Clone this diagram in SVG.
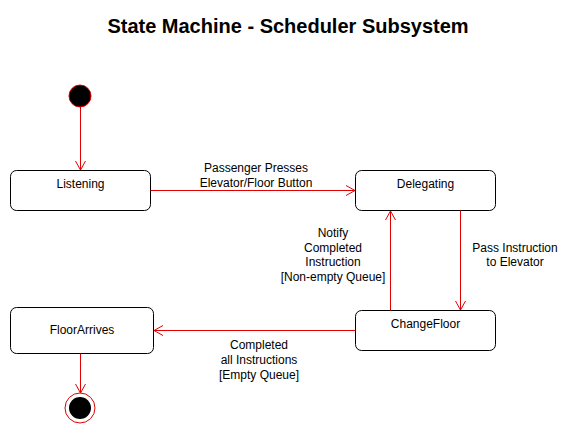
<svg xmlns="http://www.w3.org/2000/svg" width="576" height="437" viewBox="0 0 576 437">
<style>
.st{fill:#fff;stroke:#000;stroke-width:1}
.lbl{font-family:"Liberation Sans",Arial,sans-serif;font-size:12px;fill:#000;text-anchor:middle}
.edge{fill:none;stroke:#e00000;stroke-width:1}
.title{font-family:"Liberation Sans",Arial,sans-serif;font-size:20px;font-weight:bold;text-anchor:middle;fill:#000}
</style>
<defs>
<marker id="open" markerWidth="12" markerHeight="12" refX="10" refY="6" orient="auto" markerUnits="userSpaceOnUse">
<path d="M1,1 L10,6 L1,11" fill="none" stroke="#e00000" stroke-width="1"/>
</marker>
</defs>
<rect width="576" height="437" fill="#fff"/>
<text class="title" x="288" y="33">State Machine - Scheduler Subsystem</text>
<g id="initial"><circle cx="80" cy="96" r="11" fill="#000" stroke="#e00000" stroke-width="1"/></g>
<g id="listening"><rect class="st" x="10.5" y="170.5" width="140" height="40" rx="6"/><text class="lbl" x="80.5" y="188">Listening</text></g>
<g id="delegating"><rect class="st" x="355.5" y="170.5" width="140" height="40" rx="6"/><text class="lbl" x="425.5" y="188">Delegating</text></g>
<g id="changefloor"><rect class="st" x="355.5" y="310.5" width="140" height="40" rx="6"/><text class="lbl" x="425.5" y="328">ChangeFloor</text></g>
<g id="floorarrives"><rect class="st" x="10.5" y="307.5" width="143" height="46" rx="6"/><text class="lbl" x="82" y="334">FloorArrives</text></g>
<g id="final"><circle cx="80" cy="408" r="15" fill="#fff" stroke="#e00000" stroke-width="1"/><circle cx="80" cy="408" r="11" fill="#000"/></g>
<g id="connectors">
<path class="edge" d="M80.5,107 L80.5,170" marker-end="url(#open)"/>
<path class="edge" d="M150.5,190.5 L355,190.5" marker-end="url(#open)"/>
<text class="lbl" x="256" y="172">Passenger Presses</text>
<text class="lbl" x="256" y="187">Elevator/Floor Button</text>
<path class="edge" d="M460.5,210.5 L460.5,310" marker-end="url(#open)"/>
<text class="lbl" x="515" y="252">Pass Instruction</text>
<text class="lbl" x="515" y="266">to Elevator</text>
<path class="edge" d="M390.5,310.5 L390.5,211" marker-end="url(#open)"/>
<text class="lbl" x="333" y="237">Notify</text>
<text class="lbl" x="333" y="252">Completed</text>
<text class="lbl" x="333" y="266">Instruction</text>
<text class="lbl" x="333" y="281">[Non-empty Queue]</text>
<path class="edge" d="M355.5,330.5 L154,330.5" marker-end="url(#open)"/>
<text class="lbl" x="259" y="349">Completed</text>
<text class="lbl" x="259" y="364">all Instructions</text>
<text class="lbl" x="259" y="379">[Empty Queue]</text>
<path class="edge" d="M80.5,353.5 L80.5,393" marker-end="url(#open)"/>
</g>
</svg>
